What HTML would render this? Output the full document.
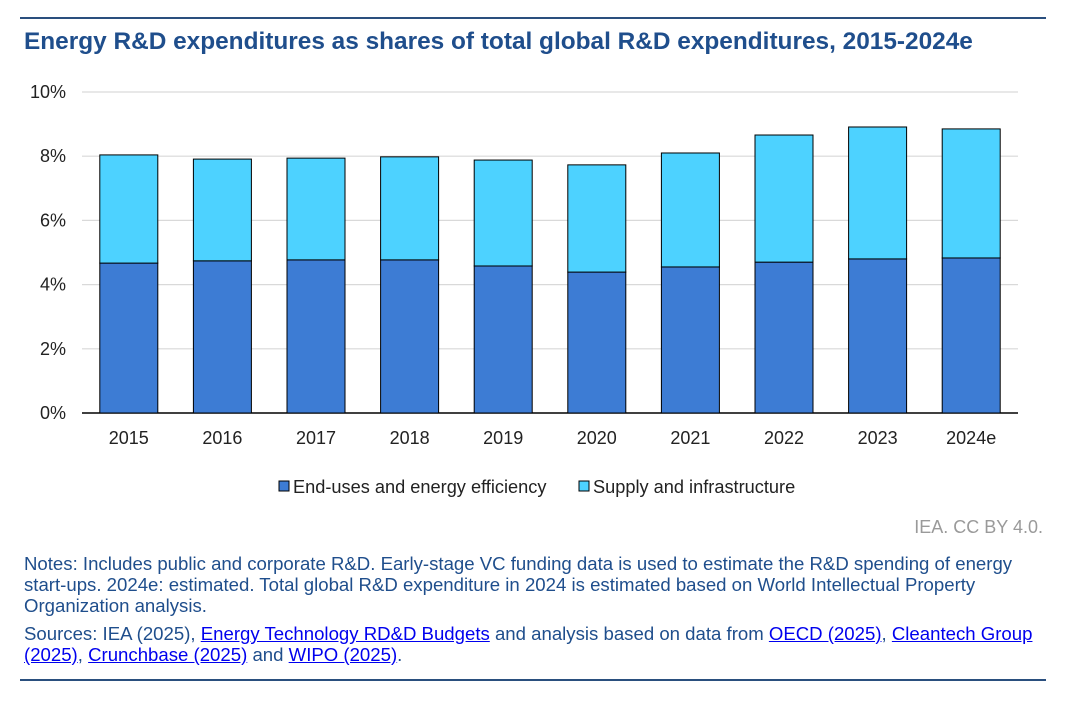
<!DOCTYPE html>
<html><head><meta charset="utf-8"><style>
body{margin:0;width:1080px;height:705px;background:#fff;font-family:"Liberation Sans",Arial,sans-serif;position:relative;overflow:hidden}
.rule{position:absolute;left:20px;width:1026px;height:2px;background:#2a4f7e}
#title{position:absolute;left:24px;top:28px;font-size:24.4px;font-weight:bold;color:#1f4e8c;white-space:nowrap}
#credit{position:absolute;right:37px;top:517px;font-size:18px;color:#9a9a9a}
.note{position:absolute;left:24px;font-size:18.6px;color:#1f4e8c;line-height:21px;width:1025px}
.note a{color:#0000ee;text-decoration:underline}
svg{position:absolute;left:0;top:0}
.nw{white-space:nowrap}
</style></head><body>
<div class="rule" style="top:17px"></div>
<div id="title">Energy R&amp;D expenditures as shares of total global R&amp;D expenditures, 2015-2024e</div>
<svg id="chart" width="1080" height="520"></svg>
<div id="credit">IEA. CC BY 4.0.</div>
<div class="note" style="top:553px">Notes: Includes public and corporate R&amp;D. Early-stage VC funding data is used to estimate the R&amp;D spending of energy<br><span class="nw">start-ups.</span> 2024e: estimated. Total global R&amp;D expenditure in 2024 is estimated based on World Intellectual Property<br>Organization analysis.</div>
<div class="note" style="top:623px">Sources: IEA (2025), <a>Energy Technology RD&amp;D Budgets</a> and analysis based on data from <a>OECD (2025)</a>, <a>Cleantech Group<br>(2025)</a>, <a>Crunchbase (2025)</a> and <a>WIPO (2025)</a>.</div>
<div class="rule" style="top:679px"></div>
<script>
const categories=["2015","2016","2017","2018","2019","2020","2021","2022","2023","2024e"];
const endUses=[4.67,4.74,4.77,4.77,4.58,4.39,4.55,4.70,4.80,4.83];
const supply=[3.37,3.17,3.17,3.21,3.30,3.34,3.55,3.96,4.11,4.02];
const yTicks=[0,2,4,6,8,10];
const seriesNames=["End-uses and energy efficiency","Supply and infrastructure"];
const colors=["#3d7cd4","#4dd2ff"];
const svg=document.getElementById('chart');
const NS='http://www.w3.org/2000/svg';
const L=82,R=1018,T=92,B=413;
const y=v=>B-(v/10)*(B-T);
const step=(R-L)/categories.length;
const x=i=>L+step*(i+0.5);
const bw=58;
function mk(t,a){const e=document.createElementNS(NS,t);for(const k in a)e.setAttribute(k,a[k]);svg.appendChild(e);return e;}
yTicks.forEach(v=>{
  const g=mk('line',{x1:L,x2:R,y1:y(v),y2:y(v),stroke:v===0?'#000':'#d9d9d9','stroke-width':v===0?1.5:1.2});
  
  
  const t=mk('text',{x:66,y:y(v)+6,'text-anchor':'end','font-size':18,fill:'#222'});
  t.textContent=v+'%';
  
  
});
categories.forEach((c,i)=>{
  const r1=mk('rect',{x:x(i)-bw/2,y:y(endUses[i]),width:bw,height:y(0)-y(endUses[i]),fill:colors[0],stroke:'#000','stroke-width':1});
  
  
  const tot=endUses[i]+supply[i];
  const r2=mk('rect',{x:x(i)-bw/2,y:y(tot),width:bw,height:y(endUses[i])-y(tot),fill:colors[1],stroke:'#000','stroke-width':1});
  
  
  const t=mk('text',{x:x(i),y:444,'text-anchor':'middle','font-size':18,fill:'#222'});
  t.textContent=c;
  
  
});
const lx=[279,579];
seriesNames.forEach((n,i)=>{
  const r=mk('rect',{x:lx[i],y:481,width:10,height:10,fill:colors[i],stroke:'#000','stroke-width':1});
  
  
  const t=mk('text',{x:lx[i]+14,y:493,'font-size':18.2,fill:'#222'});
  t.textContent=n;
  
  
});
</script>
</body></html>
